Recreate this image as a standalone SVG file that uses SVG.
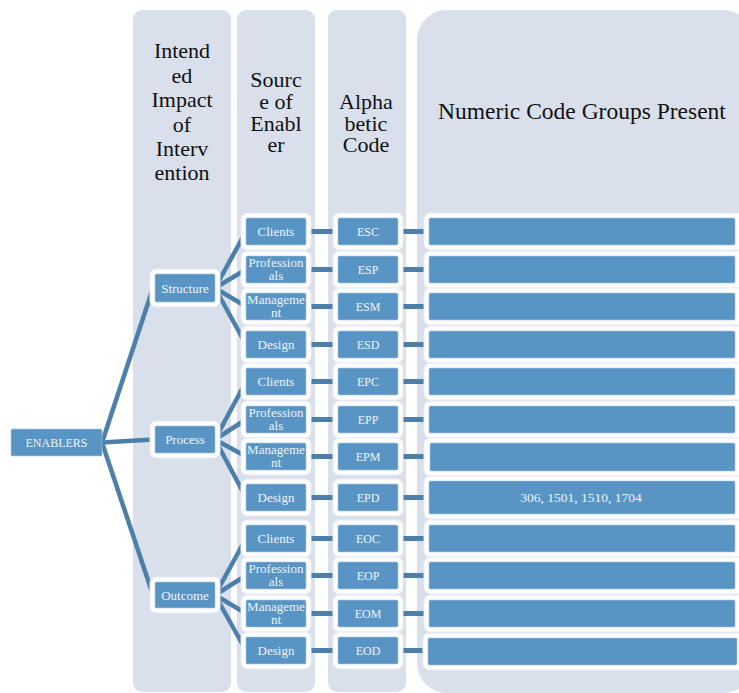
<svg xmlns="http://www.w3.org/2000/svg" width="739" height="693" viewBox="0 0 739 693">
  <style>
    .col { fill: #D9E0EB; }
    .hdr { font-family: "Liberation Serif", "Times New Roman", serif; font-size: 22px; fill: #111111; text-anchor: middle; }
    .frame { fill: #FFFFFF; stroke: #E6EBF3; stroke-width: 1; }
    .box { fill: #5895C5; stroke: #A9C4DE; stroke-width: 0.6; }
    .lbl { font-family: "Liberation Serif", "Times New Roman", serif; font-size: 13px; fill: #EEF3F9; text-anchor: middle; }
    .cap { font-size: 12px; }
    .link { stroke: #4C80AB; stroke-width: 4.5; fill: none; }
    .bar { stroke: #4C80AB; stroke-width: 5; fill: none; }
  </style>

  <!-- column backgrounds -->
  <g id="columns">
    <rect class="col" x="133" y="10" width="98" height="682" rx="9"/>
    <rect class="col" x="237" y="10" width="78" height="682" rx="9"/>
    <rect class="col" x="328" y="10" width="78" height="682" rx="9"/>
    <rect class="col" x="417" y="10" width="336" height="683" rx="30"/>
  </g>

  <!-- column headings -->
  <g id="headings">
    <text class="hdr" x="182" y="58">Intend</text>
    <text class="hdr" x="182" y="82.5">ed</text>
    <text class="hdr" x="182" y="107">Impact</text>
    <text class="hdr" x="182" y="131.5">of</text>
    <text class="hdr" x="182" y="156">Interv</text>
    <text class="hdr" x="182" y="180">ention</text>
    <text class="hdr" x="276" y="87">Sourc</text>
    <text class="hdr" x="276" y="109">e of</text>
    <text class="hdr" x="276" y="130.5">Enabl</text>
    <text class="hdr" x="276" y="152">er</text>
    <text class="hdr" x="366" y="109">Alpha</text>
    <text class="hdr" x="366" y="130.5">betic</text>
    <text class="hdr" x="366" y="152">Code</text>
    <text class="hdr" x="582" y="119" style="font-size:23.5px">Numeric Code Groups Present</text>
  </g>

  <!-- connectors -->
  <g id="connectors">
    <line class="link" x1="102" y1="442.5" x2="153" y2="288"/>
    <line class="link" x1="102" y1="442.5" x2="153" y2="439.5"/>
    <line class="link" x1="102" y1="442.5" x2="153" y2="595"/>

    <line class="link" x1="215" y1="288" x2="246" y2="231.5"/>
    <line class="link" x1="215" y1="288" x2="246" y2="269.5"/>
    <line class="link" x1="215" y1="288" x2="246" y2="306.5"/>
    <line class="link" x1="215" y1="288" x2="246" y2="344.5"/>

    <line class="link" x1="215" y1="439.5" x2="246" y2="381.5"/>
    <line class="link" x1="215" y1="439.5" x2="246" y2="419.5"/>
    <line class="link" x1="215" y1="439.5" x2="246" y2="456.5"/>
    <line class="link" x1="215" y1="439.5" x2="246" y2="497.5"/>

    <line class="link" x1="215" y1="595" x2="246" y2="538.5"/>
    <line class="link" x1="215" y1="595" x2="246" y2="575.5"/>
    <line class="link" x1="215" y1="595" x2="246" y2="613.5"/>
    <line class="link" x1="215" y1="595" x2="246" y2="650.5"/>

    <path class="bar" d="M306 231.5H338M306 269.5H338M306 306.5H338M306 344.5H338M306 381.5H338M306 419.5H338M306 456.5H338M306 497.5H338M306 538.5H338M306 575.5H338M306 613.5H338M306 650.5H338"/>
    <path class="bar" d="M398 231.5H429M398 269.5H429M398 306.5H429M398 344.5H429M398 381.5H429M398 419.5H429M398 456.5H429M398 497.5H429M398 538.5H429M398 575.5H429M398 613.5H429M398 650.5H429"/>
  </g>

  <!-- root -->
  <g id="enablers">
    <rect class="box" x="11" y="429" width="91" height="27" rx="1.5"/>
    <text class="lbl cap" x="56.5" y="447">ENABLERS</text>
  </g>

  <!-- intended impact -->
  <g id="structure">
    <rect class="frame" x="150" y="269" width="70" height="38" rx="6"/>
    <rect class="box" x="155" y="274" width="60" height="28" rx="1.5"/>
    <text class="lbl" x="185" y="292.5">Structure</text>
  </g>
  <g id="process">
    <rect class="frame" x="150" y="421" width="70" height="37" rx="6"/>
    <rect class="box" x="155" y="426" width="60" height="27" rx="1.5"/>
    <text class="lbl" x="185" y="444">Process</text>
  </g>
  <g id="outcome">
    <rect class="frame" x="150" y="577" width="70" height="36" rx="6"/>
    <rect class="box" x="155" y="582" width="60" height="26" rx="1.5"/>
    <text class="lbl" x="185" y="599.5">Outcome</text>
  </g>

  <!-- source of enabler -->
  <g id="src-s-clients">
    <rect class="frame" x="241" y="213" width="70" height="37" rx="6"/>
    <rect class="box" x="246" y="218" width="60" height="27" rx="1.5"/>
    <text class="lbl" x="276" y="236">Clients</text>
  </g>
  <g id="src-s-professionals">
    <rect class="frame" x="241" y="251" width="70" height="37" rx="6"/>
    <rect class="box" x="246" y="256" width="60" height="27" rx="1.5"/>
    <text class="lbl" x="276" y="267">Profession</text>
    <text class="lbl" x="276" y="280">als</text>
  </g>
  <g id="src-s-management">
    <rect class="frame" x="241" y="288" width="70" height="37" rx="6"/>
    <rect class="box" x="246" y="293" width="60" height="27" rx="1.5"/>
    <text class="lbl" x="276" y="304">Manageme</text>
    <text class="lbl" x="276" y="317">nt</text>
  </g>
  <g id="src-s-design">
    <rect class="frame" x="241" y="326" width="70" height="37" rx="6"/>
    <rect class="box" x="246" y="331" width="60" height="27" rx="1.5"/>
    <text class="lbl" x="276" y="349">Design</text>
  </g>
  <g id="src-p-clients">
    <rect class="frame" x="241" y="363" width="70" height="37" rx="6"/>
    <rect class="box" x="246" y="368" width="60" height="27" rx="1.5"/>
    <text class="lbl" x="276" y="386">Clients</text>
  </g>
  <g id="src-p-professionals">
    <rect class="frame" x="241" y="401" width="70" height="37" rx="6"/>
    <rect class="box" x="246" y="406" width="60" height="27" rx="1.5"/>
    <text class="lbl" x="276" y="417">Profession</text>
    <text class="lbl" x="276" y="430">als</text>
  </g>
  <g id="src-p-management">
    <rect class="frame" x="241" y="438" width="70" height="37" rx="6"/>
    <rect class="box" x="246" y="443" width="60" height="27" rx="1.5"/>
    <text class="lbl" x="276" y="454">Manageme</text>
    <text class="lbl" x="276" y="467">nt</text>
  </g>
  <g id="src-p-design">
    <rect class="frame" x="241" y="479" width="70" height="37" rx="6"/>
    <rect class="box" x="246" y="484" width="60" height="27" rx="1.5"/>
    <text class="lbl" x="276" y="502">Design</text>
  </g>
  <g id="src-o-clients">
    <rect class="frame" x="241" y="520" width="70" height="37" rx="6"/>
    <rect class="box" x="246" y="525" width="60" height="27" rx="1.5"/>
    <text class="lbl" x="276" y="543">Clients</text>
  </g>
  <g id="src-o-professionals">
    <rect class="frame" x="241" y="557" width="70" height="37" rx="6"/>
    <rect class="box" x="246" y="562" width="60" height="27" rx="1.5"/>
    <text class="lbl" x="276" y="573">Profession</text>
    <text class="lbl" x="276" y="586">als</text>
  </g>
  <g id="src-o-management">
    <rect class="frame" x="241" y="595" width="70" height="37" rx="6"/>
    <rect class="box" x="246" y="600" width="60" height="27" rx="1.5"/>
    <text class="lbl" x="276" y="611">Manageme</text>
    <text class="lbl" x="276" y="624">nt</text>
  </g>
  <g id="src-o-design">
    <rect class="frame" x="241" y="632" width="70" height="37" rx="6"/>
    <rect class="box" x="246" y="637" width="60" height="27" rx="1.5"/>
    <text class="lbl" x="276" y="655">Design</text>
  </g>

  <!-- alphabetic codes -->
  <g id="code-esc"><rect class="frame" x="333" y="213" width="70" height="37" rx="6"/><rect class="box" x="338" y="218" width="60" height="27" rx="1.5"/><text class="lbl cap" x="368" y="236">ESC</text></g>
  <g id="code-esp"><rect class="frame" x="333" y="251" width="70" height="37" rx="6"/><rect class="box" x="338" y="256" width="60" height="27" rx="1.5"/><text class="lbl cap" x="368" y="274">ESP</text></g>
  <g id="code-esm"><rect class="frame" x="333" y="288" width="70" height="37" rx="6"/><rect class="box" x="338" y="293" width="60" height="27" rx="1.5"/><text class="lbl cap" x="368" y="311">ESM</text></g>
  <g id="code-esd"><rect class="frame" x="333" y="326" width="70" height="37" rx="6"/><rect class="box" x="338" y="331" width="60" height="27" rx="1.5"/><text class="lbl cap" x="368" y="349">ESD</text></g>
  <g id="code-epc"><rect class="frame" x="333" y="363" width="70" height="37" rx="6"/><rect class="box" x="338" y="368" width="60" height="27" rx="1.5"/><text class="lbl cap" x="368" y="386">EPC</text></g>
  <g id="code-epp"><rect class="frame" x="333" y="401" width="70" height="37" rx="6"/><rect class="box" x="338" y="406" width="60" height="27" rx="1.5"/><text class="lbl cap" x="368" y="424">EPP</text></g>
  <g id="code-epm"><rect class="frame" x="333" y="438" width="70" height="37" rx="6"/><rect class="box" x="338" y="443" width="60" height="27" rx="1.5"/><text class="lbl cap" x="368" y="461">EPM</text></g>
  <g id="code-epd"><rect class="frame" x="333" y="479" width="70" height="37" rx="6"/><rect class="box" x="338" y="484" width="60" height="27" rx="1.5"/><text class="lbl cap" x="368" y="502">EPD</text></g>
  <g id="code-eoc"><rect class="frame" x="333" y="520" width="70" height="37" rx="6"/><rect class="box" x="338" y="525" width="60" height="27" rx="1.5"/><text class="lbl cap" x="368" y="543">EOC</text></g>
  <g id="code-eop"><rect class="frame" x="333" y="557" width="70" height="37" rx="6"/><rect class="box" x="338" y="562" width="60" height="27" rx="1.5"/><text class="lbl cap" x="368" y="580">EOP</text></g>
  <g id="code-eom"><rect class="frame" x="333" y="595" width="70" height="37" rx="6"/><rect class="box" x="338" y="600" width="60" height="27" rx="1.5"/><text class="lbl cap" x="368" y="618">EOM</text></g>
  <g id="code-eod"><rect class="frame" x="333" y="632" width="70" height="37" rx="6"/><rect class="box" x="338" y="637" width="60" height="27" rx="1.5"/><text class="lbl cap" x="368" y="655">EOD</text></g>

  <!-- numeric code groups -->
  <g id="num-esc"><rect class="frame" x="424" y="213" width="322" height="37" rx="6"/><rect class="box" x="429" y="218" width="306" height="27" rx="1.5"/></g>
  <g id="num-esp"><rect class="frame" x="424" y="251" width="322" height="37" rx="6"/><rect class="box" x="429" y="256" width="306" height="27" rx="1.5"/></g>
  <g id="num-esm"><rect class="frame" x="424" y="288" width="322" height="37" rx="6"/><rect class="box" x="429" y="293" width="306" height="27" rx="1.5"/></g>
  <g id="num-esd"><rect class="frame" x="424" y="326" width="322" height="37" rx="6"/><rect class="box" x="429" y="331" width="306" height="27" rx="1.5"/></g>
  <g id="num-epc"><rect class="frame" x="424" y="363" width="322" height="37" rx="6"/><rect class="box" x="429" y="368" width="306" height="27" rx="1.5"/></g>
  <g id="num-epp"><rect class="frame" x="424" y="401" width="322" height="37" rx="6"/><rect class="box" x="429" y="406" width="306" height="27" rx="1.5"/></g>
  <g id="num-epm"><rect class="frame" x="424" y="438" width="322" height="38" rx="6"/><rect class="box" x="430" y="443" width="305" height="28" rx="1.5"/></g>
  <g id="num-epd">
    <rect class="frame" x="424" y="476" width="322" height="43" rx="6"/>
    <rect class="box" x="429" y="481" width="306" height="33" rx="1.5"/>
    <text class="lbl" x="581" y="502" style="font-size:13.5px">306, 1501, 1510, 1704</text>
  </g>
  <g id="num-eoc"><rect class="frame" x="424" y="520" width="322" height="37" rx="6"/><rect class="box" x="429" y="525" width="306" height="27" rx="1.5"/></g>
  <g id="num-eop"><rect class="frame" x="424" y="557" width="322" height="37" rx="6"/><rect class="box" x="429" y="562" width="306" height="27" rx="1.5"/></g>
  <g id="num-eom"><rect class="frame" x="424" y="595" width="322" height="37" rx="6"/><rect class="box" x="429" y="600" width="306" height="27" rx="1.5"/></g>
  <g id="num-eod"><rect class="frame" x="423" y="633" width="323" height="37" rx="6"/><rect class="box" x="428" y="638" width="309" height="27" rx="1.5"/></g>
</svg>
